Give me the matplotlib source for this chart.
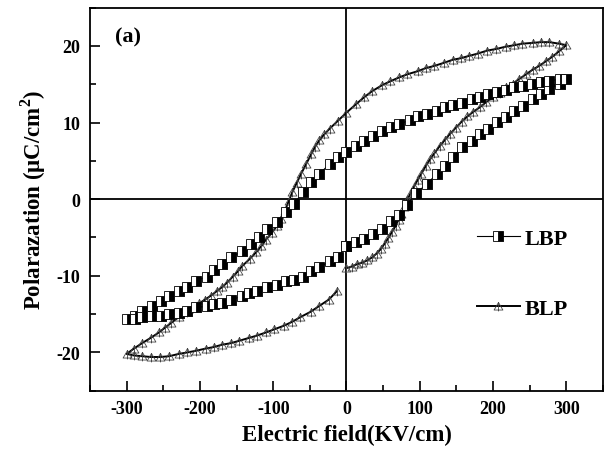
import numpy as np
import matplotlib
matplotlib.use('Agg')
import matplotlib.pyplot as plt
from matplotlib.path import Path
from matplotlib.ticker import MultipleLocator

# LBP loop (squares): 0 -> +300 -> -300 -> 0
lbp_x = [0, 13, 24, 36, 49, 61, 72, 83, 95, 110, 123, 134, 145, 158, 171, 182, 193, 206, 218, 229, 241, 254, 266, 277, 291, 300,
         291, 277, 266, 253, 241, 229, 218, 205, 193, 182, 171, 157, 145, 134, 123, 110, 97, 86, 72, 61, 49, 36, 24, 13, 0,
         -12, -23, -37, -48, -60, -71, -82, -95, -108, -119, -130, -143, -157, -170, -181, -191, -205, -217, -228, -242,
         -253, -265, -279, -289, -300,
         -289, -279, -265, -253, -242, -228, -217, -205, -191, -181, -170, -157, -143, -133, -122, -108, -95, -82, -71,
         -60, -48, -37, -23, -12, 0]
lbp_y = [-6.1, -5.6, -5.2, -4.6, -3.9, -2.9, -2.0, -0.7, 0.8, 2.0, 3.3, 4.3, 5.5, 6.8, 7.6, 8.5, 9.2, 10.1, 10.7, 11.5,
         12.2, 13.1, 13.7, 14.4, 15.0, 15.7,
         15.7, 15.4, 15.3, 15.0, 14.8, 14.6, 14.2, 14.0, 13.7, 13.3, 13.1, 12.5, 12.3, 12.0, 11.5, 11.1, 10.8, 10.3, 9.8,
         9.4, 8.9, 8.2, 7.6, 6.9, 6.2,
         5.5, 4.6, 3.3, 2.2, 0.9, -0.6, -1.7, -3.0, -3.9, -5.0, -5.9, -6.8, -7.6, -8.5, -9.2, -10.1, -10.7, -11.4, -12.0,
         -12.7, -13.3, -14.0, -14.6, -15.3, -15.7,
         -15.7, -15.4, -15.3, -15.2, -15.0, -14.8, -14.6, -14.1, -14.0, -13.7, -13.5, -13.1, -12.7, -12.2, -12.0, -11.5,
         -11.2, -10.7, -10.5, -10.1, -9.4, -8.9, -8.1, -7.6, -6.1]

# BLP loop (triangles): 0 -> +300 -> -300 -> ~0
blp_x = [0, 7, 14, 21, 28, 35, 41, 47, 52, 57, 62, 67, 71, 75, 79, 83, 87, 92, 97, 102, 108, 114, 120, 127, 134, 141,
         149, 157, 165, 173, 182, 191, 200, 209, 218, 227, 236, 245, 254, 263, 272, 281, 290, 300,
         290, 277, 265, 254, 240, 229, 217, 204, 192, 179, 167, 156, 145, 133, 120, 108, 97, 83, 72, 60, 49, 35, 24, 13, 0,
         -12, -23, -30, -37, -43, -48, -55, -62, -68, -74, -79, -84, -90, -95, -102, -110, -116, -123, -132, -142, -148,
         -155, -163, -170, -177, -185, -193, -201, -210, -218, -229, -240, -248, -256, -267, -279, -290, -300,
         -290, -279, -267, -254, -242, -229, -217, -206, -192, -181, -170, -158, -147, -133, -122, -110, -99, -85, -74,
         -63, -49, -38, -24, -13]
blp_y = [-9.0, -8.8, -8.5, -8.3, -8.0, -7.6, -7.1, -6.5, -5.8, -5.1, -4.3, -3.5, -2.7, -1.9, -1.0, -0.1, 0.7, 1.6, 2.5,
         3.3, 4.3, 5.2, 6.0, 6.9, 7.7, 8.5, 9.3, 10.1, 10.8, 11.4, 12.0, 12.7, 13.3, 13.9, 14.6, 15.1, 15.7, 16.3, 16.9,
         17.4, 18.0, 18.6, 19.3, 20.1,
         20.3, 20.5, 20.5, 20.4, 20.3, 20.1, 19.9, 19.6, 19.4, 19.0, 18.7, 18.4, 18.2, 17.8, 17.4, 17.1, 16.7, 16.3, 15.9,
         15.4, 14.9, 14.1, 13.3, 12.4, 11.3,
         10.2, 9.2, 8.5, 7.7, 6.8, 5.9, 4.6, 3.3, 2.1, 0.9, -0.3, -1.5, -2.6, -3.5, -4.4, -5.3, -6.1, -6.9, -7.8, -8.7,
         -9.4, -10.1, -10.9, -11.5, -12.0, -12.6, -13.1, -13.6, -14.2, -14.7, -15.4, -16.2, -16.8, -17.4, -18.1, -18.8,
         -19.5, -20.2,
         -20.4, -20.5, -20.6, -20.6, -20.5, -20.2, -20.0, -19.8, -19.5, -19.3, -19.0, -18.8, -18.5, -18.1, -17.8, -17.4,
         -17.0, -16.5, -16.0, -15.4, -14.7, -14.0, -13.1, -12.0]

plt.rcParams['font.family'] = 'Liberation Serif'
plt.rcParams['font.weight'] = 'bold'
plt.rcParams['axes.unicode_minus'] = False
plt.rcParams['mathtext.fontset'] = 'custom'
plt.rcParams['mathtext.rm'] = 'Liberation Serif:bold'
plt.rcParams['mathtext.bf'] = 'Liberation Serif:bold'

# triangle with a vertical stroke through it
tri = Path([(-1, -0.8), (1, -0.8), (0, 0.9), (-1, -0.8), (0, 0.9), (0, -1.1)],
           [Path.MOVETO, Path.LINETO, Path.LINETO, Path.CLOSEPOLY, Path.MOVETO, Path.LINETO])

fig = plt.figure(figsize=(6.06, 4.56), dpi=100)
ax = fig.add_axes([0.1485, 0.141, 0.8465, 0.840])

ax.axhline(0, color='black', lw=1.3, zorder=1)
ax.axvline(0, color='black', lw=1.3, zorder=1)

ax.plot(lbp_x, lbp_y, color='black', lw=0.8, marker='s', ms=6.5, fillstyle='right',
        markerfacecolor='black', markerfacecoloralt='white', markeredgecolor='black',
        markeredgewidth=0.6, label='LBP', zorder=3)
ax.plot(blp_x, blp_y, color='black', lw=1.4, marker=tri, ms=7, markerfacecolor='none',
        markeredgecolor='#444444', markeredgewidth=0.6, label='BLP', zorder=2)

ax.set_xlim(-350, 350)
ax.set_ylim(-25, 25)
ax.xaxis.set_major_locator(MultipleLocator(100))
ax.xaxis.set_minor_locator(MultipleLocator(50))
ax.yaxis.set_major_locator(MultipleLocator(10))
ax.yaxis.set_minor_locator(MultipleLocator(5))
ax.tick_params(which='both', direction='in', top=False, right=False, labelsize=13, width=1.2, pad=7)
ax.tick_params(which='major', length=7)
ax.tick_params(which='minor', length=4)
for s in ax.spines.values():
    s.set_linewidth(1.3)

ax.set_xlabel('Electric field(KV/cm)', fontsize=16.5, fontweight='bold', labelpad=5)
ax.set_ylabel('Polarazation (μC/cm$^{2}$)', fontsize=16.5, fontweight='bold', labelpad=6)
ax.text(0.049, 0.926, '(a)', transform=ax.transAxes, fontsize=16, fontweight='bold', va='center')

ax.legend(loc='upper left', bbox_to_anchor=(0.755, 0.423), frameon=False, fontsize=16,
          labelspacing=2.2, handlelength=1.9, handletextpad=0.25, borderpad=0, borderaxespad=0)

plt.savefig('out.png', dpi=100)
